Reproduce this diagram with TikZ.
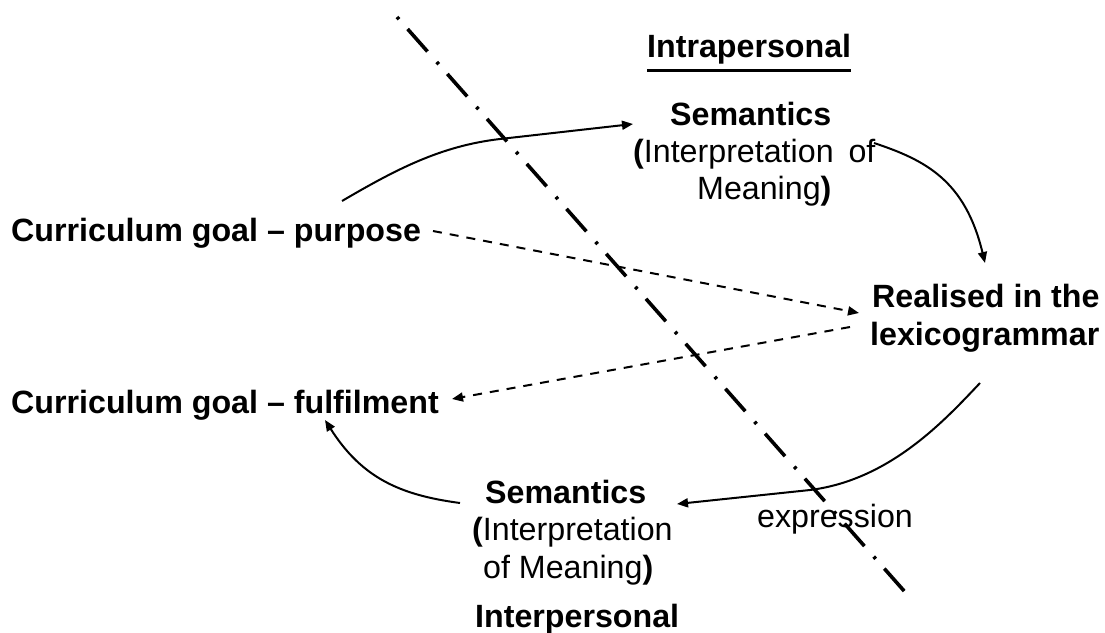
\documentclass[tikz,border=0pt]{standalone}
\usepackage{fontspec}
\setmainfont{Liberation Sans}
\usetikzlibrary{arrows.meta,calc}
\begin{document}
\begin{tikzpicture}[x=1pt,y=-1pt,
  txt/.style={inner sep=0pt,anchor=base west,font=\fontsize{32.2}{37}\selectfont},
  bt/.style={txt,font=\fontsize{32.2}{37}\selectfont\bfseries},
  conn/.style={line width=2pt,-{Triangle[length=11pt,width=9pt]}},
  dconn/.style={conn,dash pattern=on 9pt off 8pt},
  divider/.style={line width=3.6pt,dash pattern=on 3pt off 13pt on 30pt off 14pt}]
\useasboundingbox (0,0) rectangle (1105,632);

% divider
\coordinate (divA) at (397,17);
\coordinate (divB) at (905,592);
\draw[divider] (divA) -- (divB);

% texts
\node[bt] (intra) at (647,57) {Intrapersonal};
\draw[line width=3pt] ($(intra.base west)+(0,13)$) -- ($(intra.base east)+(0,13)$);
\node[bt] (sem1) at (670,125) {Semantics};
\node[txt] (int1) at (633,162) {{\bfseries(}Interpretation\hspace{6pt} of};
\node[txt] (mean1) at (697,199) {Meaning{\bfseries)}};

\node[bt] (purp) at (11,241) {Curriculum goal – purpose};
\node[bt] (fulf) at (11,413) {Curriculum goal – fulfilment};

\node[bt] (real1) at (872,307) {Realised in the};
\node[bt] (real2) at (870,345) {lexicogrammar};

\node[bt] (sem2) at (485,503) {Semantics};
\node[txt] (int2) at (472,540) {{\bfseries(}Interpretation};
\node[txt] (mean2) at (483,578) {of Meaning{\bfseries)}};
\node[bt] (inter) at (475,627) {Interpersonal};

\node[txt] (expr) at (757,527) {expression};

% connectors
\draw[conn] ($(purp.base west)+(331,-40)$) .. controls (395,170) and (440,146) .. (500,139) -- ($(sem1.base west)+(-37,-1)$);
\draw[conn] ($(int1.base west)+(241,-19)$) .. controls (925,160) and (965,180) .. ($(real1.base west)+(113,-44)$);
\draw[dconn] ($(purp.base west)+(422,-10)$) -- ($(real1.base west)+(-13,6)$);
\draw[dconn] ($(real2.base west)+(-20,-18)$) -- ($(fulf.base west)+(441,-14)$);
\draw[conn] ($(real2.base west)+(110,38)$) .. controls (945,420) and (890,480) .. (810,490) -- ($(sem2.base west)+(192,1)$);
\draw[conn] ($(sem2.base west)+(-25,0)$) .. controls (400,495) and (362,478) .. ($(fulf.base west)+(314,7)$);
\end{tikzpicture}
\end{document}
